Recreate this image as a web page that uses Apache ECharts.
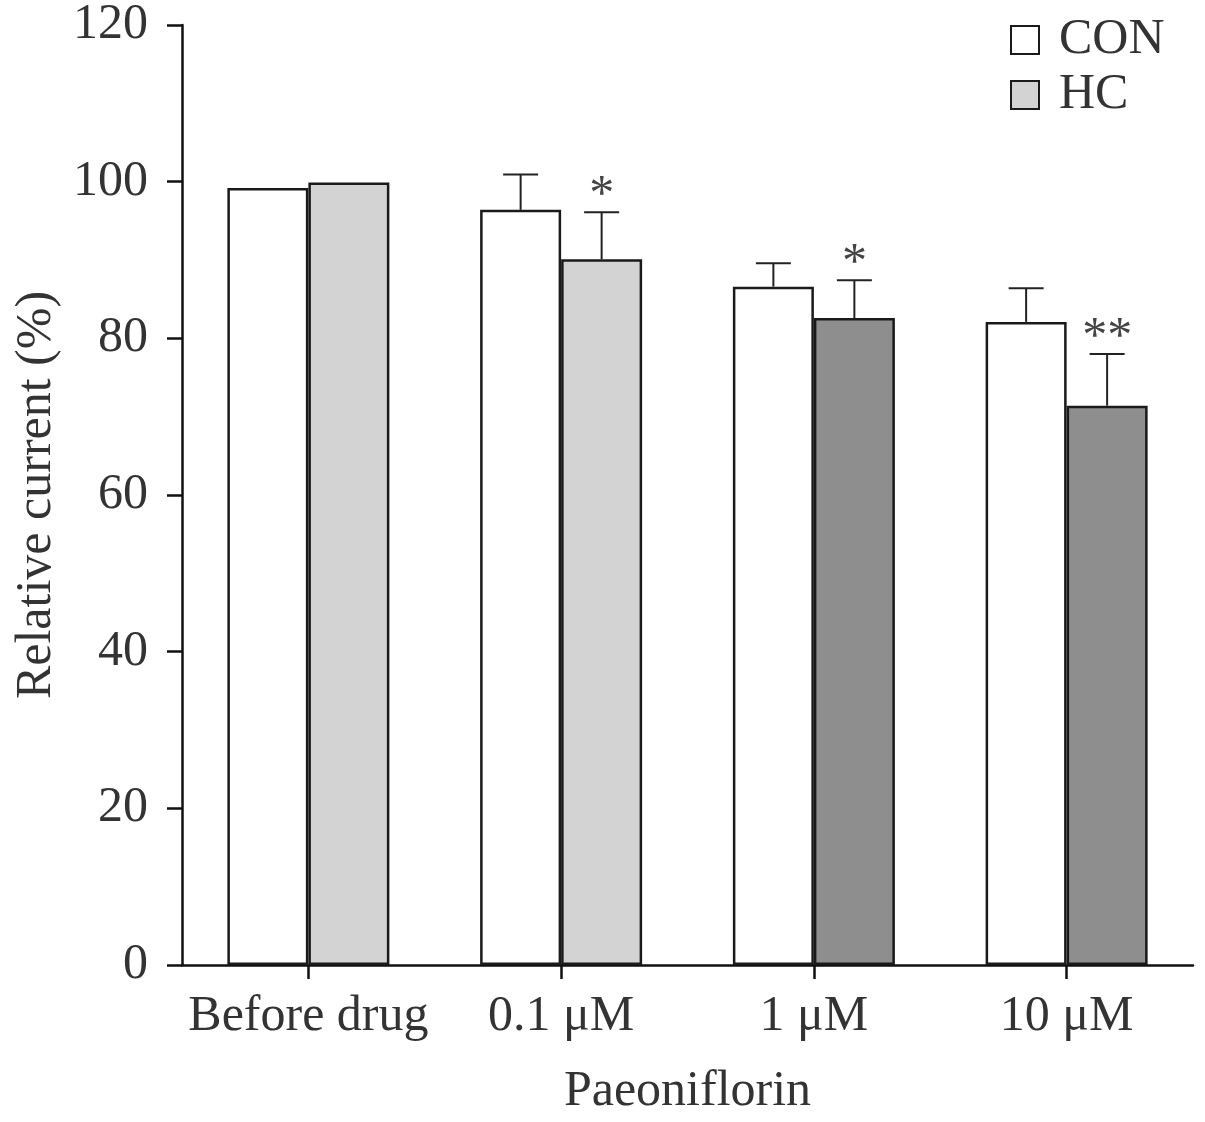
<!DOCTYPE html>
<html>
<head>
<meta charset="utf-8">
<script src="https://cdn.jsdelivr.net/npm/echarts@6/dist/echarts.min.js"></script>
<style>
html,body{margin:0;padding:0;background:#fff;}
#main{width:1205px;height:1122px;}
</style>
</head>
<body>
<div id="main"></div>
<script>
const categories = ['Before drug', '0.1 \u03bcM', '1 \u03bcM', '10 \u03bcM'];
const conMean = [99.2, 96.4, 86.6, 82.1];
const conErr = [0, 4.5, 3.0, 4.3];
const hcMean = [99.9, 90.1, 82.6, 71.4];
const hcErr = [0, 6.0, 4.8, 6.6];
const hcStars = ['', '*', '*', '**'];
const yTicks = [0, 20, 40, 60, 80, 100, 120];

const FONT = 'Liberation Serif';
const TXT = '#333';
const BAR_W = 81;
const hcColors = ['#d3d3d3', '#d3d3d3', '#8e8e8e', '#8e8e8e'];

function errSeries(name, means, errs, stars, offset) {
  const data = categories.map((c, i) => [i, means[i], errs[i], stars ? stars[i] : '']);
  return {
    type: 'custom',
    name: name + ' err',
    z: 5,
    silent: true,
    data: data,
    encode: { x: 0, y: 1 },
    renderItem: function (params, api) {
      const i = api.value(0);
      const m = api.value(1);
      const e = api.value(2);
      const s = data[params.dataIndex][3];
      const base = api.coord([i, m]);
      const top = api.coord([i, m + e]);
      const x = base[0] + offset;
      const children = [];
      if (e > 0) {
        children.push({ type: 'line', shape: { x1: x, y1: base[1], x2: x, y2: top[1] }, style: { stroke: '#222', lineWidth: 2 } });
        children.push({ type: 'line', shape: { x1: x - 17.5, y1: top[1], x2: x + 17.5, y2: top[1] }, style: { stroke: '#222', lineWidth: 2 } });
      }
      if (s) {
        children.push({ type: 'text', style: { text: s, x: x, y: top[1] + 9, align: 'center', verticalAlign: 'bottom', font: '50px "' + FONT + '"', fill: '#444' } });
      }
      return { type: 'group', children: children };
    }
  };
}

const chart = echarts.init(document.getElementById('main'));
chart.setOption({
  backgroundColor: '#fff',
  animation: false,
  grid: { left: 182, right: 12, top: 25, bottom: 154 },
  legend: {
    orient: 'vertical',
    left: 1005,
    top: 10,
    itemWidth: 28,
    itemHeight: 28,
    itemGap: 5,
    icon: 'rect',
    data: ['CON', 'HC'],
    textStyle: { fontFamily: FONT, fontSize: 50, color: TXT, padding: [0, 0, 0, 15] }
  },
  xAxis: {
    type: 'category',
    data: categories,
    name: 'Paeoniflorin',
    nameLocation: 'middle',
    nameGap: 102,
    nameTextStyle: { fontFamily: FONT, fontSize: 50, color: TXT },
    axisLine: { lineStyle: { color: '#111', width: 2.5 } },
    axisTick: { show: true, interval: 0, alignWithLabel: true, length: 14, lineStyle: { color: '#111', width: 2.5 } },
    axisLabel: { interval: 0, fontFamily: FONT, fontSize: 50, color: TXT, margin: 27 }
  },
  yAxis: {
    type: 'value',
    min: 0,
    max: 120,
    interval: 20,
    name: 'Relative current (%)',
    nameLocation: 'middle',
    nameGap: 104,
    nameTextStyle: { fontFamily: FONT, fontSize: 50, color: TXT },
    splitLine: { show: false },
    axisLine: { show: true, lineStyle: { color: '#111', width: 2.5 } },
    axisTick: { show: true, length: 15, lineStyle: { color: '#111', width: 2.5 } },
    axisLabel: { fontFamily: FONT, fontSize: 50, color: TXT, margin: 34,
      formatter: function (v) { return yTicks.indexOf(v) >= 0 ? String(v) : ''; } }
  },
  series: [
    {
      name: 'CON', type: 'bar', barWidth: BAR_W, barGap: '0%',
      data: conMean,
      itemStyle: { color: '#fff', borderColor: '#1a1a1a', borderWidth: 2.5 }
    },
    {
      name: 'HC', type: 'bar', barWidth: BAR_W, barGap: '0%',
      data: hcMean.map((v, i) => ({ value: v, itemStyle: { color: hcColors[i] } })),
      itemStyle: { color: '#d3d3d3', borderColor: '#1a1a1a', borderWidth: 2.5 }
    },
    errSeries('CON', conMean, conErr, null, -BAR_W / 2),
    errSeries('HC', hcMean, hcErr, hcStars, BAR_W / 2)
  ]
});
</script>
</body>
</html>
